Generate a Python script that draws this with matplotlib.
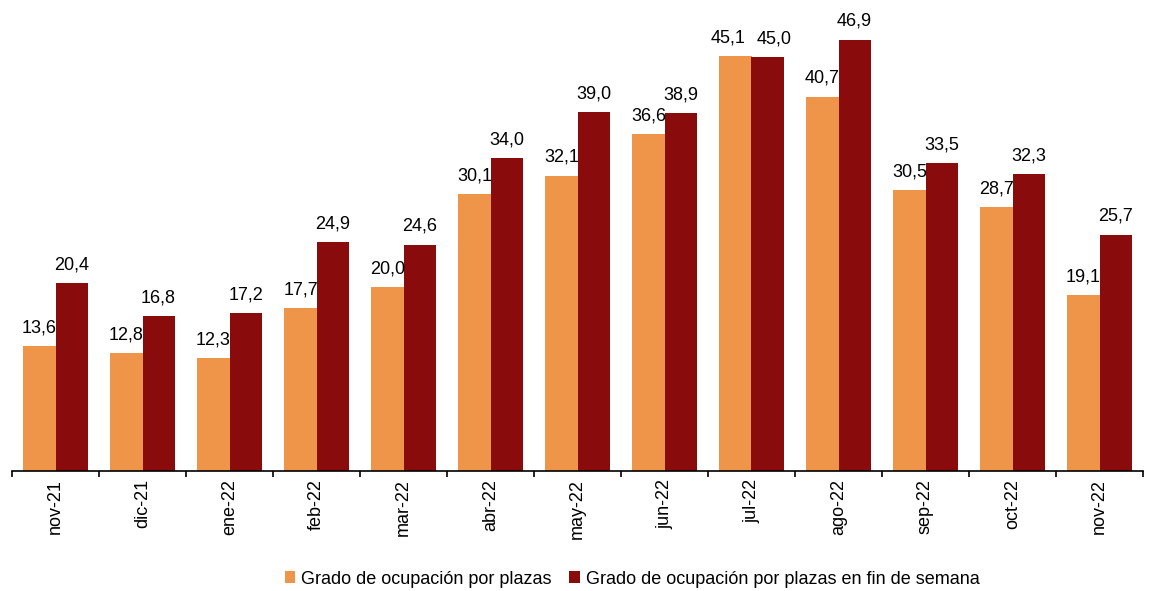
import matplotlib
matplotlib.use("Agg")
import matplotlib.pyplot as plt
import numpy as np

plt.rcParams['font.family'] = ['Liberation Sans', 'DejaVu Sans']

categories = ["nov-21", "dic-21", "ene-22", "feb-22", "mar-22", "abr-22", "may-22",
              "jun-22", "jul-22", "ago-22", "sep-22", "oct-22", "nov-22"]
plazas = [13.6, 12.8, 12.3, 17.7, 20.0, 30.1, 32.1, 36.6, 45.1, 40.7, 30.5, 28.7, 19.1]
fin_semana = [20.4, 16.8, 17.2, 24.9, 24.6, 34.0, 39.0, 38.9, 45.0, 46.9, 33.5, 32.3, 25.7]
series_names = ["Grado de ocupación por plazas",
                "Grado de ocupación por plazas en fin de semana"]

c1 = "#EE9549"
c2 = "#8A0B0B"

fig = plt.figure(figsize=(11.55, 5.91), dpi=100)
ax = fig.add_axes([12/1155, (591-471)/591, (1143-12)/1155, 471/591])

x = np.arange(len(categories))
w = 0.368
b1 = ax.bar(x - w/2, plazas, w, color=c1, label=series_names[0], linewidth=0)
b2 = ax.bar(x + w/2, fin_semana, w, color=c2, label=series_names[1], linewidth=0)

def fmt(v):
    return f"{v:.1f}".replace(".", ",")

# labels nudged apart where neighbouring labels would collide (as in the original)
for bars, vals, side in ((b1, plazas, -1), (b2, fin_semana, 1)):
    for i, (rect, v) in enumerate(zip(bars, vals)):
        dx = 0
        if abs(plazas[i] - fin_semana[i]) < 1.5:
            dx = 5 * side
        ax.annotate(fmt(v), (rect.get_x() + rect.get_width()/2, v),
                    xytext=(dx, 7), textcoords="offset points",
                    ha="center", va="bottom", fontsize=13)

ax.set_xlim(-0.5, len(categories) - 0.5)
ax.set_ylim(0, 471/9.2)
ax.set_xticks(x)
ax.set_xticklabels(categories, rotation=90, fontsize=13)
ax.set_xticks(np.arange(-0.5, len(categories), 1), minor=True)
ax.tick_params(axis='x', which='major', length=0, pad=6)
ax.tick_params(axis='x', which='minor', length=4, width=1.2, color='black')
ax.set_yticks([])
for s in ['top', 'right', 'left']:
    ax.spines[s].set_visible(False)
ax.spines['bottom'].set_linewidth(1.2)

fig.legend(handles=[b1, b2], labels=series_names, loc='center', ncol=2,
           bbox_to_anchor=(632/1155, 1 - 579/591), frameon=False, fontsize=13,
           handlelength=0.6, handleheight=0.6, handletextpad=0.3, columnspacing=1.0)

fig.savefig("out.png", dpi=100)
